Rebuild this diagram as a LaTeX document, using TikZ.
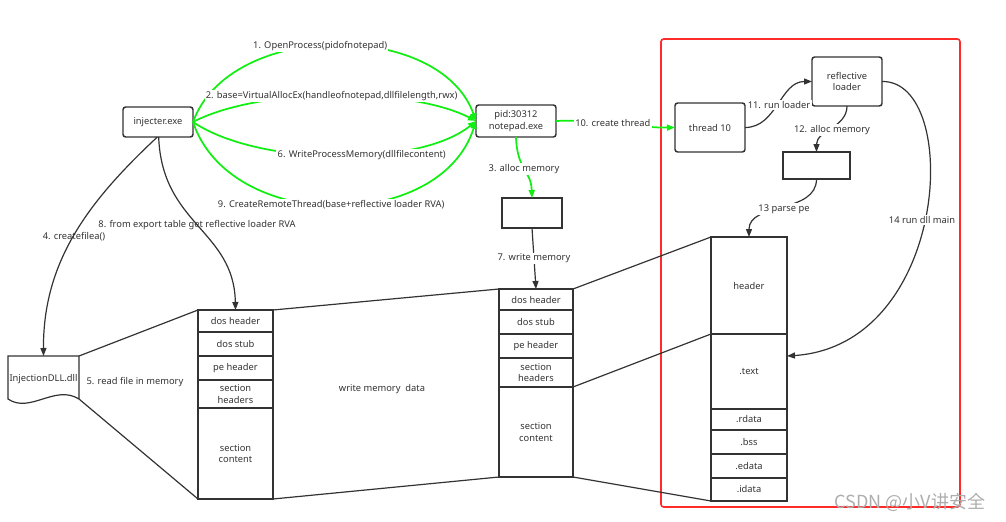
\documentclass[tikz,border=0pt]{standalone}
\usepackage{fontspec}
\setmainfont{Noto Sans}
\newfontfamily\cjk{Noto Sans CJK SC}
\usetikzlibrary{arrows.meta}
\definecolor{ink}{HTML}{333333}
\definecolor{grn}{HTML}{11EE11}
\definecolor{redb}{HTML}{FF2A2A}
\newcommand\mkbox[7][cell]{\node[#1, minimum width={(#5-#3)*0.75pt}, minimum height={(#6-#4)*0.75pt}] (#2) at ({(#3+#5)/2},{(#4+#6)/2}) {#7};}
\begin{document}
\begin{tikzpicture}[x=0.75pt,y=-0.75pt,
  font=\fontsize{7}{8.6}\selectfont,
  cell/.style={draw=ink, line width=0.9pt, inner sep=0pt, outer sep=0pt, text=ink, align=center, rectangle},
  rbox/.style={cell, rounded corners=2pt, line width=1.1pt},
  ghost/.style={cell, draw=none},
  ln/.style={draw=ink, line width=0.9pt},
  lbl/.style={text=ink, fill=white, inner sep=1pt},
  plainlbl/.style={text=ink, inner sep=1pt},
  arr/.style={draw=ink, line width=0.9pt, -{Triangle[length=6pt,width=4.5pt]}},
  garr/.style={draw=grn, line width=1.3pt, -{Triangle[length=6pt,width=4.5pt]}}]
\useasboundingbox (0,0) rectangle (1006,521);

% red frame
\draw[redb, line width=1.2pt, rounded corners=2pt] (661,39) rectangle (960,507);

% process boxes
\mkbox[rbox]{inj}{123}{107}{193}{137}{injecter.exe}
\mkbox[rbox]{np}{476}{105}{556}{137}{pid:30312\\notepad.exe}
\mkbox{mema}{502}{198}{562}{228}{}
\mkbox[rbox]{thr}{675}{103}{745}{152}{thread 10}
\mkbox[rbox]{ldr}{812}{57}{882}{106}{reflective\\loader}
\mkbox{memb}{783}{152}{850}{179}{}

% dll document
\mkbox[ghost]{dll}{8}{356}{79}{399}{}
\draw[ln] (dll.south east) -- (dll.north east) -- (dll.north west) -- (dll.south west)
  .. controls (30,414) and (55,384) .. (dll.south east);
\node[plainlbl, inner sep=0pt] (dlltxt) at (43.5,379) {InjectionDLL.dll};

% column 1
\mkbox{a1}{198}{310}{273}{332}{dos header}
\mkbox{a2}{198}{332}{273}{356}{dos stub}
\mkbox{a3}{198}{356}{273}{380}{pe header}
\mkbox{a4}{198}{380}{273}{408}{section\\headers}
\mkbox{a5}{198}{408}{273}{499}{section\\content}

% column 2
\mkbox{b1}{499}{289}{573}{310}{dos header}
\mkbox{b2}{499}{310}{573}{334}{dos stub}
\mkbox{b3}{499}{334}{573}{358}{pe header}
\mkbox{b4}{499}{358}{573}{387}{section\\headers}
\mkbox{b5}{499}{387}{573}{477}{section\\content}

% column 3
\mkbox{c1}{711}{237}{787}{334}{header}
\mkbox{c2}{711}{334}{787}{409}{.text}
\mkbox{c3}{711}{409}{787}{430}{.rdata}
\mkbox{c4}{711}{430}{787}{454}{.bss}
\mkbox{c5}{711}{454}{787}{478}{.edata}
\mkbox{c6}{711}{478}{787}{501}{.idata}

% projection lines
\draw[ln] (dll.north east) -- (a1.north west);
\draw[ln] (dll.south east) -- (a5.south west);
\draw[ln] (a1.north east) -- (b1.north west);
\draw[ln] (a5.south east) -- (b5.south west);
\draw[ln] (b1.north east) -- (c1.north west);
\draw[ln] (b4.south east) -- (c1.south west);
\draw[ln] (b5.south east) -- (c6.south west);

\node[plainlbl] (l5) at (135,382) {5. read file in memory};
\node[plainlbl] (lw) at (382,389) {write memory\ \ data};

% green API calls
\draw[garr] (inj.east) .. controls (230,20) and (440,20) .. (np.west)
  node[lbl, pos=0.46] {1. OpenProcess(pidofnotepad)};
\draw[garr] (inj.east) .. controls (260,87) and (410,87) .. (np.west)
  node[lbl, pos=0.49] {2. base=VirtualAllocEx(handleofnotepad,dllfilelength,rwx)};
\draw[garr] (inj.east) .. controls (260,167) and (420,167) .. (np.west)
  node[lbl, pos=0.57] {6. WriteProcessMemory(dllfilecontent)};
\draw[garr] (inj.east) .. controls (230,233) and (440,233) .. (np.west)
  node[lbl, pos=0.49] {9. CreateRemoteThread(base+reflective loader RVA)};

\draw[garr] (np.south) .. controls (517,170) and (531,170) .. (mema.north)
  node[lbl, pos=0.5] {3. alloc memory};
\draw[garr] (np.east) .. controls (600,119) and (640,128) .. (thr.west)
  node[lbl, pos=0.45] {10. create thread};

% black connectors
\draw[arr] (mema.south) -- (b1.north) node[lbl, pos=0.5] {7. write memory};
\draw[arr] ([xshift=-0.5pt]inj.south) .. controls (90,200) and (43,260) .. (dll.north);
\node[plainlbl] (l4) at (74,237) {4. createfilea()};
\draw[arr] ([xshift=0.5pt]inj.south) .. controls (162,225) and (234,230) .. (a1.north);
\node[plainlbl] (l8) at (197,225) {8. from export table get reflective loader RVA};

\draw[arr] (thr.east) to[out=0, in=180] (ldr.west);
\node[lbl] (l11) at (779,105) {11. run loader};
\draw[arr] (ldr.south) to[out=-90, in=90] (memb.north);
\node[lbl] (l12) at (832,130) {12. alloc memory};
\draw[arr] (memb.south) to[out=-90, in=90] (c1.north);
\node[lbl] (l13) at (784,209) {13 parse pe};
\draw[arr] (ldr.east) .. controls (962,80) and (950,345) .. ([yshift=11.6pt]c2.east);
\node[lbl] (l14) at (922,220) {14 run dll main};

% watermark
\node[text=black!32, inner sep=0pt, font=\cjk\fontsize{13.5}{15}\selectfont] (wm) at (910,502) {CSDN @小V讲安全};
\end{tikzpicture}
\end{document}
